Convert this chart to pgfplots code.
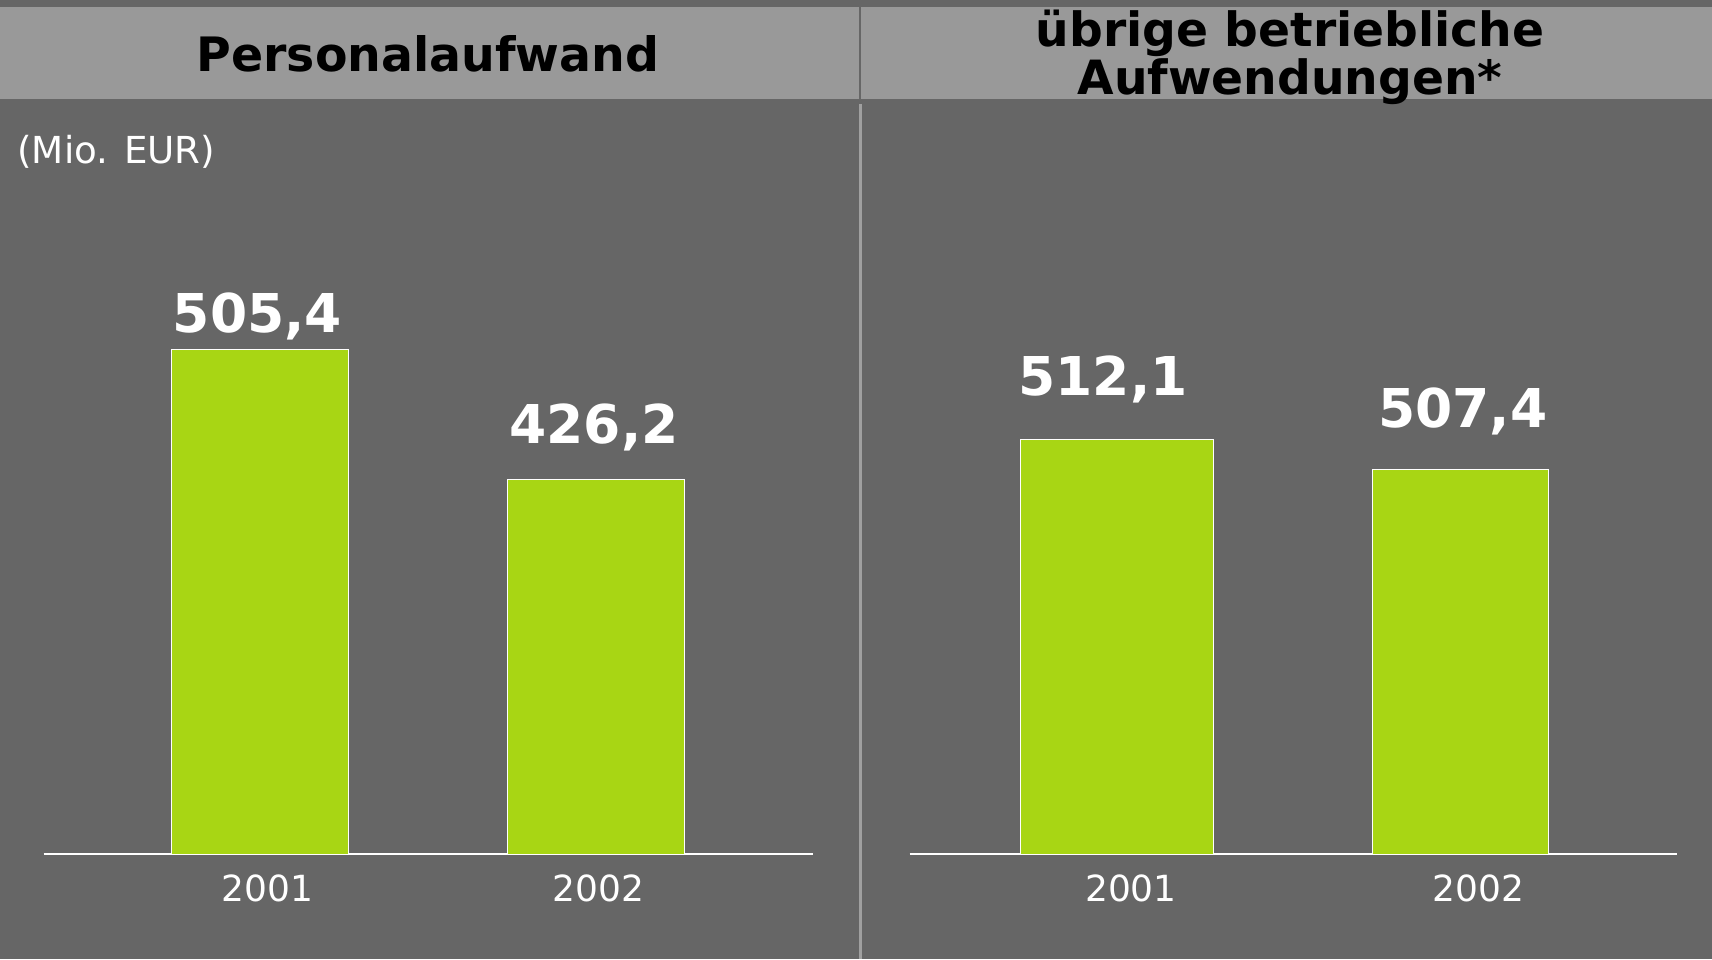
\documentclass[border=0pt]{standalone}
\usepackage{fontspec}
\setmainfont{DejaVu Sans}
\usepackage{pgfplots}
\pgfplotsset{compat=1.18}
\definecolor{bg}{HTML}{666666}
\definecolor{hdr}{HTML}{999999}
\definecolor{divl}{HTML}{A0A0A0}
\definecolor{bargreen}{HTML}{A8D614}
\begin{document}
\begin{tikzpicture}
\fill[bg] (0,0) rectangle (856pt,479.5pt);
\fill[hdr] (0,429.75pt) rectangle (856pt,475.75pt);
\draw[bg, line width=1pt] (430pt,429.75pt) -- (430pt,475.75pt);
\draw[divl, line width=1.5pt] (430pt,0) -- (430pt,427.5pt);
\node[anchor=base, inner sep=0pt, font=\fontsize{23.7}{28}\selectfont\bfseries, text=black] at (214pt,443.65pt) {Personalaufwand};
\node[anchor=base, inner sep=0pt, font=\fontsize{23.6}{28}\selectfont\bfseries, text=black] at (645pt,456.15pt) {übrige betriebliche};
\node[anchor=base, inner sep=0pt, font=\fontsize{23.6}{28}\selectfont\bfseries, text=black] at (645pt,432.35pt) {Aufwendungen*};
\node[anchor=base west, inner sep=0pt, font=\fontsize{18.6}{22}\selectfont, text=white] at (8.5pt,397.5pt) {(Mio. EUR)};

\pgfplotsset{panel/.style={
  anchor=south west, scale only axis, height=372pt,
  axis x line*=bottom, axis y line=none,
  x axis line style={white, line width=1.2pt},
  major tick length=0pt, ytick=\empty,
  xticklabels={2001,2002},
  xticklabel style={anchor=base, yshift=-23.5pt, inner sep=0pt, text=white, font=\fontsize{18}{20}\selectfont},
  ybar, bar shift=0pt,
  every node near coord/.append style={anchor=base, inner sep=0pt, text=white, font=\fontsize{26.75}{30}\selectfont\bfseries},
}}

\begin{axis}[panel, at={(21.85pt,52.5pt)}, width=384.85pt,
  xmin=-0.645, xmax=1.647, ymin=199.5, ymax=650.4,
  xtick={0.021,1.006}]
\addplot[fill=bargreen, draw=white, line width=0.5pt, bar width=88.35pt,
  nodes near coords={505,4},
  every node near coord/.append style={yshift=8.5pt, xshift=-1.4pt}]
  coordinates {(0,505.4)};
\addplot[fill=bargreen, draw=white, line width=0.5pt, bar width=88.5pt,
  nodes near coords={426,2},
  every node near coord/.append style={yshift=18pt, xshift=-1pt}]
  coordinates {(1,426.2)};
\end{axis}

\begin{axis}[panel, at={(454.75pt,52.5pt)}, width=383.75pt,
  xmin=-0.604, xmax=1.631, ymin=446.6, ymax=564.3,
  xtick={0.041,1.052}]
\addplot[fill=bargreen, draw=white, line width=0.5pt, bar width=96.4pt,
  nodes near coords={512,1},
  every node near coord/.append style={yshift=22.3pt, xshift=-7pt}]
  coordinates {(0,512.1)};
\addplot[fill=bargreen, draw=white, line width=0.5pt, bar width=88pt,
  nodes near coords={507,4},
  every node near coord/.append style={yshift=20.85pt, xshift=1.25pt}]
  coordinates {(1,507.4)};
\end{axis}

\pgfresetboundingbox
\useasboundingbox (0,0) rectangle (856pt,479.5pt);
\end{tikzpicture}
\end{document}
